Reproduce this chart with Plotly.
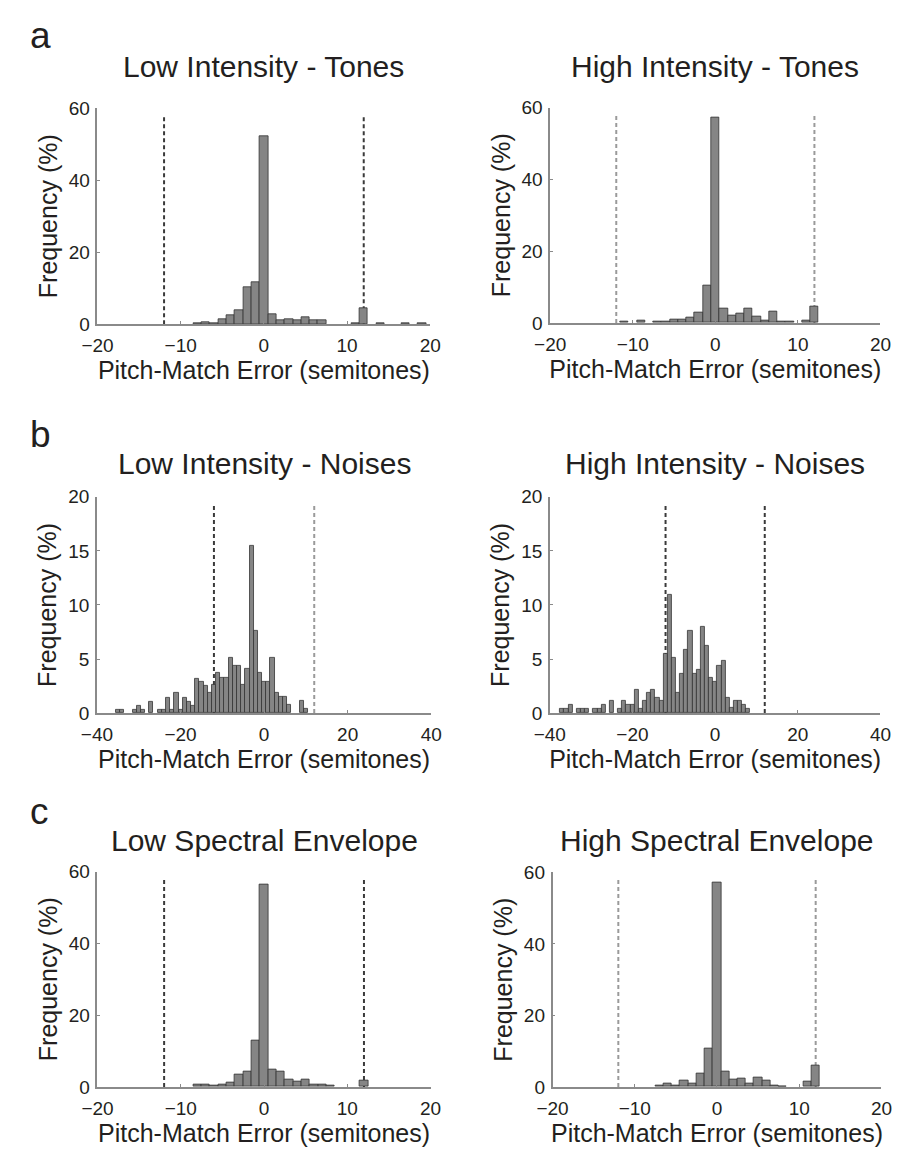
import plotly.graph_objects as go

# ---------------- data (bin centres in semitones, frequency in %) ----------------
tone_low_bins = [-8, -7, -6, -5, -4, -3, -2, -1, 0, 1, 2, 3, 4, 5, 6, 7, 11, 12, 14, 17, 19]
tone_low_freq = [0.3, 0.6, 0.3, 1.5, 2.5, 3.9, 10.2, 11.8, 52.2, 2.8, 1.0, 1.5, 1.0, 1.9, 1.0, 1.0, 0.3, 4.4, 0.3, 0.3, 0.3]

tone_high_bins = [-11, -9, -7, -6, -5, -4, -3, -2, -1, 0, 1, 2, 3, 4, 5, 6, 7, 8, 9, 11, 12]
tone_high_freq = [0.4, 0.7, 0.4, 0.4, 1.1, 1.1, 1.4, 2.9, 10.5, 57.1, 4.0, 2.2, 2.6, 4.0, 1.9, 0.8, 3.3, 0.4, 0.4, 0.8, 4.5]

noise_low_bins = [-35, -34, -31, -30, -29, -27, -25, -24, -23, -22, -21, -20, -19, -18, -17,
                  -16, -15, -14, -13, -12, -11, -10, -9, -8, -7, -6, -5, -4, -3, -2, -1,
                  0, 1, 2, 3, 4, 5, 6, 9, 10]
noise_low_freq = [0.3, 0.3, 0.3, 0.7, 0.35, 1.05, 0.3, 0.3, 1.4, 0.3, 1.85, 0.3, 1.4, 1.05, 0.7,
                  3.2, 2.9, 2.5, 1.85, 2.6, 3.7, 3.3, 3.3, 5.1, 4.4, 4.4, 2.6, 4.1, 15.5, 7.6, 3.7,
                  2.9, 2.9, 5.1, 1.85, 1.5, 1.5, 0.75, 1.15, 0.4]

noise_high_bins = [-37, -36, -35, -33, -32, -31, -29, -28, -27, -25, -23, -22, -21, -20, -19,
                   -18, -17, -16, -15, -14, -13, -12, -11, -10, -9, -8, -7, -6, -5, -4, -3,
                   -2, -1, 0, 1, 2, 3, 4, 5, 6, 7, 8]
noise_high_freq = [0.4, 0.4, 0.75, 0.4, 0.4, 0.4, 0.4, 0.4, 0.75, 1.15, 0.4, 1.15, 0.75, 0.75, 2.2,
                   0.4, 1.15, 1.85, 2.2, 1.45, 1.15, 5.45, 10.9, 5.1, 1.9, 3.66, 5.85, 7.65, 3.66, 4.0, 8.0,
                   6.2, 3.3, 2.9, 4.4, 4.8, 1.45, 0.45, 1.15, 1.15, 0.75, 0.4]

spec_low_bins = [-8, -7, -6, -5, -4, -3, -2, -1, 0, 1, 2, 3, 4, 5, 6, 7, 8, 12]
spec_low_freq = [0.6, 0.6, 0.3, 0.6, 1.2, 3.5, 4.4, 13.0, 56.5, 5.0, 4.4, 2.2, 1.6, 2.2, 0.7, 0.7, 0.3, 1.7]

spec_high_bins = [-7, -6, -5, -4, -3, -2, -1, 0, 1, 2, 3, 4, 5, 6, 7, 8, 11, 12]
spec_high_freq = [0.3, 0.9, 0.5, 1.8, 1.0, 3.9, 10.7, 57.1, 4.2, 2.1, 2.4, 1.1, 2.7, 1.8, 0.5, 0.2, 1.4, 5.9]

titles = ["Low Intensity - Tones", "High Intensity - Tones",
          "Low Intensity - Noises", "High Intensity - Noises",
          "Low Spectral Envelope", "High Spectral Envelope"]
panel_letters = ["a", "b", "c"]
octave_lines = [-12, 12]
x_label = "Pitch-Match Error (semitones)"
y_label = "Frequency (%)"

tone_xticks = [-20, -10, 0, 10, 20]
noise_xticks = [-40, -20, 0, 20, 40]
tone_yticks = [0, 20, 40, 60]
noise_yticks = [0, 5, 10, 15, 20]

# ---------------- layout helpers ----------------
W, H = 907, 1167
FONT = "Liberation Sans, Arial, Helvetica, sans-serif"
TXT = "#231f20"
AXC = "#8a8a8a"
DARK = "#3a3a3a"
LIGHT = "#9a9a9a"

def fx(px):
    return px / W

def fy(py):
    return 1 - py / H

panels = [
    dict(bins=tone_low_bins, freq=tone_low_freq, xd=(84, 427), yd=(100, 320),
         xr=(-20, 20), yr=(0, 60), xt=tone_xticks, yt=tone_yticks, dash=(DARK, DARK)),
    dict(bins=tone_high_bins, freq=tone_high_freq, xd=(550.6, 891), yd=(99.3, 318.7),
         xr=(-20, 20), yr=(0, 60), xt=tone_xticks, yt=tone_yticks, dash=(LIGHT, LIGHT)),
    dict(bins=noise_low_bins, freq=noise_low_freq, xd=(83.4, 428), yd=(495.7, 716),
         xr=(-40, 40), yr=(0, 20), xt=noise_xticks, yt=noise_yticks, dash=(DARK, LIGHT)),
    dict(bins=noise_high_bins, freq=noise_high_freq, xd=(550.2, 891), yd=(495.7, 716),
         xr=(-40, 40), yr=(0, 20), xt=noise_xticks, yt=noise_yticks, dash=(DARK, DARK)),
    dict(bins=spec_low_bins, freq=spec_low_freq, xd=(84, 427.3), yd=(877.3, 1096.7),
         xr=(-20, 20), yr=(0, 60), xt=tone_xticks, yt=tone_yticks, dash=(DARK, DARK)),
    dict(bins=spec_high_bins, freq=spec_high_freq, xd=(553, 892), yd=(878.3, 1096.7),
         xr=(-20, 20), yr=(0, 60), xt=tone_xticks, yt=tone_yticks, dash=(LIGHT, LIGHT)),
]

title_cy = [57.5, 57.5, 462, 462, 846, 846]
letter_cy = [26, 432, 816]

fig = go.Figure()
layout = dict(
    width=W, height=H, autosize=False,
    margin=dict(l=0, r=0, t=0, b=0),
    paper_bgcolor="white", plot_bgcolor="white",
    showlegend=False, bargap=0,
    font=dict(family=FONT, color=TXT),
)
shapes = []
annotations = []

for i, p in enumerate(panels):
    n = "" if i == 0 else str(i + 1)
    xa, ya = "x" + n, "y" + n
    fig.add_trace(go.Bar(
        x=p["bins"], y=p["freq"], width=1, xaxis=xa, yaxis=ya,
        marker=dict(color="#858585", line=dict(color="#333333", width=0.8)),
        hoverinfo="x+y",
    ))
    layout["xaxis" + n] = dict(
        domain=[fx(p["xd"][0]), fx(p["xd"][1])], range=list(p["xr"]), anchor=ya,
        showline=True, linecolor=AXC, linewidth=1.5, mirror=False,
        ticks="inside", ticklen=3, tickcolor=AXC, tickwidth=1.2,
        tickvals=p["xt"], showgrid=False, zeroline=False, ticklabelstandoff=3,
        tickfont=dict(size=19, family=FONT, color=TXT),
        title=dict(text=x_label, font=dict(size=25, family=FONT, color=TXT), standoff=4),
    )
    layout["yaxis" + n] = dict(
        domain=[fy(p["yd"][1]), fy(p["yd"][0])], range=list(p["yr"]), anchor=xa,
        showline=True, linecolor=AXC, linewidth=1.5, mirror=False,
        ticks="inside", ticklen=3, tickcolor=AXC, tickwidth=1.2,
        tickvals=p["yt"], showgrid=False, zeroline=False, ticklabelstandoff=2,
        tickfont=dict(size=19, family=FONT, color=TXT),
        title=dict(text=y_label, font=dict(size=25, family=FONT, color=TXT), standoff=4),
    )
    for xv, col in zip(octave_lines, p["dash"]):
        shapes.append(dict(
            type="line", xref=xa, yref=ya, x0=xv, x1=xv, y0=0, y1=p["yr"][1] * 0.97,
            line=dict(color=col, width=2, dash="4px,3px"), layer="below",
        ))
    annotations.append(dict(
        text=titles[i], xref="paper", yref="paper",
        x=fx((p["xd"][0] + p["xd"][1]) / 2), y=fy(title_cy[i]),
        xanchor="center", yanchor="middle", showarrow=False,
        font=dict(size=30, family=FONT, color=TXT),
    ))

for j, letter in enumerate(panel_letters):
    annotations.append(dict(
        text=letter, xref="paper", yref="paper", x=fx(12), y=fy(letter_cy[j]),
        xanchor="left", yanchor="middle", showarrow=False,
        font=dict(size=37, family=FONT, color=TXT),
    ))

layout["shapes"] = shapes
layout["annotations"] = annotations
fig.update_layout(**layout)
fig.write_html(
    "out.html",
    config={"displayModeBar": False},
    post_script="document.body.style.margin='0';document.body.style.overflow='hidden';",
)
